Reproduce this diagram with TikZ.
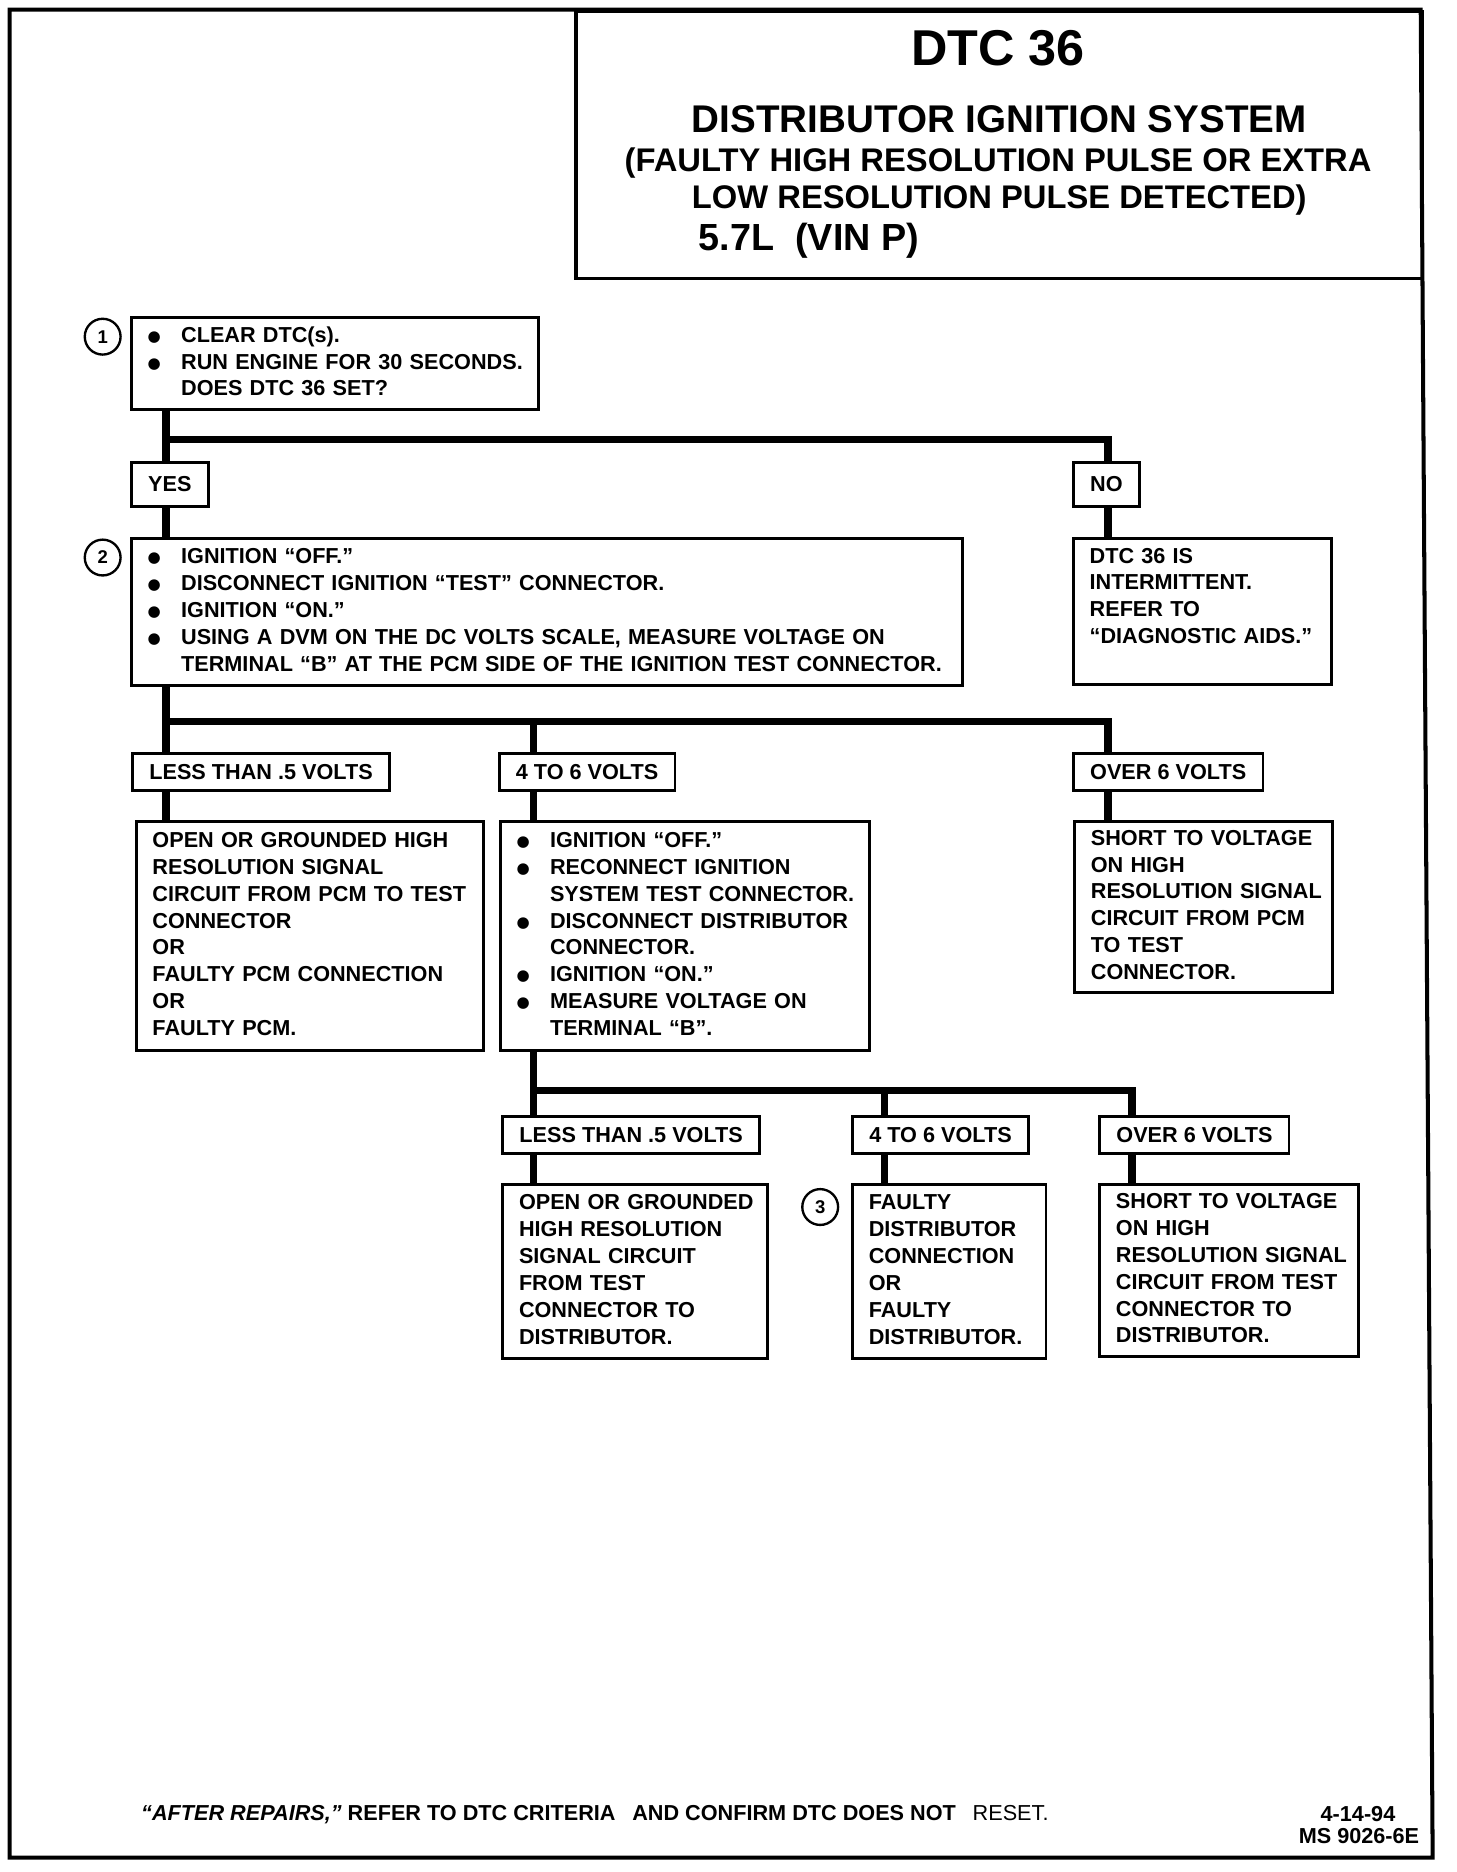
\documentclass[tikz,border=0pt]{standalone}
\usepackage{fontspec}
\setmainfont{Liberation Sans}
\newfontfamily\dotfont{DejaVu Sans}
\usetikzlibrary{positioning,calc}

\newcommand{\bodyfont}{\bfseries\fontsize{12.9}{16}\selectfont}
\newcommand{\stepbul}{\makebox[7mm][l]{\raisebox{0.6pt}{\dotfont\fontsize{9}{9}\selectfont ●}}}
\newcommand{\stepgap}{\hspace*{7mm}}
\newcommand{\boxrows}[1]{\begin{tabular}{@{}l@{}}#1\end{tabular}}

\begin{document}
\begin{tikzpicture}[x=0.25mm, y=-0.25mm,
box/.style={draw, line width=1.6pt, anchor=north west, align=left,
  inner xsep=3.4mm, inner ysep=0pt, font=\bodyfont},
lbl/.style={draw, line width=1.6pt, anchor=north west, inner xsep=3.5mm,
  inner ysep=0pt, minimum height=7.75mm, font=\bodyfont},
num/.style={circle, draw, line width=1.4pt, minimum size=7.5mm,
  inner sep=0pt, font=\bfseries\fontsize{11}{13}\selectfont},
wire/.style={line width=4.5pt}]
\useasboundingbox (0,0) rectangle (1220,1568);

% frame and heading
\draw[line width=2.4pt] (8,8) -- (1190,8) -- (1200,1556) -- (8,1556) -- cycle;
\node[draw, line width=2pt, anchor=north west, minimum width=177.25mm,
  minimum height=56mm, inner sep=0pt] (hdr) at (481,8) {};
\node[anchor=base, font=\bfseries\fontsize{30}{34}\selectfont] (t1) at (836,55) {DTC 36};
\node[anchor=base, font=\bfseries\fontsize{23}{27}\selectfont] (t2) at (837,111) {DISTRIBUTOR IGNITION SYSTEM};
\node[anchor=base, font=\bfseries\fontsize{19.5}{23}\selectfont] (t3) at (836,144) {(FAULTY HIGH RESOLUTION PULSE OR EXTRA};
\node[anchor=base, font=\bfseries\fontsize{19.5}{23}\selectfont] (t4) at (837,175) {LOW RESOLUTION PULSE DETECTED)};
\node[anchor=base west, inner sep=0pt, font=\bfseries\fontsize{22.5}{26}\selectfont] (t5) at (585,210) {5.7L\ \ (VIN P)};

% step 1
\node[num] (n1) at (86,282) {1};
\node[box, text width=78.45mm, minimum height=19.25mm] (s1) at (109,265)
  {\boxrows{\stepbul CLEAR DTC(s).\\ \stepbul RUN ENGINE FOR 30 SECONDS.\\ \stepgap DOES DTC 36 SET?}};
\node[lbl, minimum height=9.25mm] (yes) at (109,386) {YES};
\node[lbl, minimum height=9.25mm] (no) at (898,386) {NO};

% step 2
\node[num] (n2) at (86,467) {2};
\node[box, text width=167.2mm, minimum height=30.75mm] (s2) at (109,450)
  {\boxrows{\stepbul IGNITION “OFF.”\\ \stepbul DISCONNECT IGNITION “TEST” CONNECTOR.\\
  \stepbul IGNITION “ON.”\\ \stepbul USING A DVM ON THE DC VOLTS SCALE, MEASURE VOLTAGE ON\\
  \stepgap TERMINAL “B” AT THE PCM SIDE OF THE IGNITION TEST CONNECTOR.}};
\node[box, text width=47.2mm, minimum height=30.5mm] (int) at (898,450)
  {\boxrows{DTC 36 IS\\ INTERMITTENT.\\ REFER TO\\ “DIAGNOSTIC AIDS.”\\ {}}};

\node[lbl] (lv1) at (110,630) {LESS THAN .5 VOLTS};
\node[lbl] (mv1) at (417,630) {4 TO 6 VOLTS};
\node[lbl] (hv1) at (898,630) {OVER 6 VOLTS};

\node[box, text width=65.95mm, minimum height=48mm] (lo1) at (113,687)
  {\boxrows{OPEN OR GROUNDED HIGH\\ RESOLUTION SIGNAL\\ CIRCUIT FROM PCM TO TEST\\ CONNECTOR\\
  OR\\ FAULTY PCM CONNECTION\\ OR\\ FAULTY PCM.}};
\node[box, text width=70.45mm, minimum height=48mm] (s3) at (418,687)
  {\boxrows{\stepbul IGNITION “OFF.”\\ \stepbul RECONNECT IGNITION\\ \stepgap SYSTEM TEST CONNECTOR.\\
  \stepbul DISCONNECT DISTRIBUTOR\\ \stepgap CONNECTOR.\\ \stepbul IGNITION “ON.”\\
  \stepbul MEASURE VOLTAGE ON\\ \stepgap TERMINAL “B”.}};
\node[box, text width=47.2mm, minimum height=35.75mm] (hi1) at (899,687)
  {\boxrows{SHORT TO VOLTAGE\\ ON HIGH\\ RESOLUTION SIGNAL\\ CIRCUIT FROM PCM\\ TO TEST\\ CONNECTOR.}};

% step 3
\node[lbl] (lv2) at (420,934) {LESS THAN .5 VOLTS};
\node[lbl] (mv2) at (713,934) {4 TO 6 VOLTS};
\node[lbl] (hv2) at (920,934) {OVER 6 VOLTS};
\node[box, text width=48.7mm, minimum height=36.5mm] (lo2) at (420,991)
  {\boxrows{OPEN OR GROUNDED\\ HIGH RESOLUTION\\ SIGNAL CIRCUIT\\ FROM TEST\\ CONNECTOR TO\\ DISTRIBUTOR.}};
\node[num] (n3) at (687,1011) {3};
\node[box, text width=33.7mm, minimum height=36.5mm] (fd) at (713,991)
  {\boxrows{FAULTY\\ DISTRIBUTOR\\ CONNECTION\\ OR\\ FAULTY\\ DISTRIBUTOR.}};
\node[box, text width=47.45mm, minimum height=36mm] (hi2) at (920,991)
  {\boxrows{SHORT TO VOLTAGE\\ ON HIGH\\ RESOLUTION SIGNAL\\ CIRCUIT FROM TEST\\ CONNECTOR TO\\ DISTRIBUTOR.}};

% connectors
\coordinate (j1) at ([xshift=7.5mm]s1.south west);
\coordinate (b1) at ([yshift=-6mm]j1);
\coordinate (k1) at ([xshift=7.5mm]no.south west);
\draw[wire] (j1) -- (j1 |- yes.north);
\draw[wire] (j1 |- yes.south) -- (j1 |- s2.north);
\draw[wire] (b1) -| ([xshift=7.5mm]no.north west);
\draw[wire] (k1) -- (k1 |- int.north);

\coordinate (j2) at ([xshift=7.5mm]s2.south west);
\coordinate (b2) at ([yshift=-7.25mm]j2);
\coordinate (k2) at ([xshift=7.5mm]mv1.north west);
\coordinate (k3) at ([xshift=7.5mm]hv1.south west);
\draw[wire] (j2) -- (j2 |- lv1.north);
\draw[wire] (b2) -| ([xshift=7.5mm]hv1.north west);
\draw[wire] (k2 |- b2) -- (k2);
\draw[wire] (j2 |- lv1.south) -- (j2 |- lo1.north);
\draw[wire] (k2 |- mv1.south) -- (k2 |- s3.north);
\draw[wire] (k3) -- (k3 |- hi1.north);

\coordinate (j3) at (k2 |- s3.south);
\coordinate (b3) at ([yshift=-8mm]j3);
\coordinate (k4) at ([xshift=7mm]mv2.north west);
\coordinate (k5) at ([xshift=7mm]hv2.south west);
\draw[wire] (j3) -- (j3 |- lv2.north);
\draw[wire] (b3) -| ([xshift=7mm]hv2.north west);
\draw[wire] (k4 |- b3) -- (k4);
\draw[wire] (j3 |- lv2.south) -- (j3 |- lo2.north);
\draw[wire] (k4 |- mv2.south) -- (k4 |- fd.north);
\draw[wire] (k5) -- (k5 |- hi2.north);

% footer
\node[anchor=base west, inner sep=0pt, font=\fontsize{12.9}{16}\selectfont] (foot) at (118,1525)
  {\textbf{\textit{“AFTER REPAIRS,”} REFER TO DTC CRITERIA}\hspace{10pt}\textbf{AND CONFIRM DTC DOES NOT}\hspace{10pt}RESET.};
\node[anchor=base east, inner sep=0pt, font=\bodyfont] (date) at (1169,1526) {4-14-94};
\node[anchor=base east, inner sep=0pt, font=\bodyfont] (code) at (1189,1544) {MS 9026-6E};
\end{tikzpicture}
\end{document}
